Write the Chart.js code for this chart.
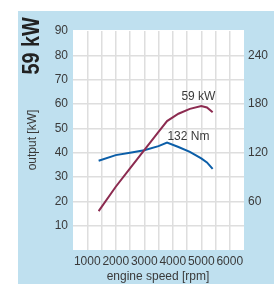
<!DOCTYPE html>
<html>
<head>
<meta charset="utf-8">
<script src="https://cdn.jsdelivr.net/npm/chart.js@4"></script>
<style>
  html, body { margin: 0; padding: 0; background: #fff; }
  #wrap { width: 274px; height: 284px; }
</style>
</head>
<body>
<div id="wrap"><canvas id="chart" width="274" height="284"></canvas></div>
<script>
// engine curve
const rpm = [1400, 2000, 2500, 3000, 3500, 3800, 4200, 4600, 5000, 5200, 5400];
const outputKw = [16, 26, 33.5, 41, 48.5, 53, 56, 58, 59.2, 58.6, 56.6];
const torqueNm = [110, 117, 120, 123, 128, 132.5, 127, 121, 113, 108, 100];
const xTicks = [1000, 2000, 3000, 4000, 5000, 6000];
const leftTicks = [10, 20, 30, 40, 50, 60, 70, 80, 90];
const rightTicks = [60, 120, 180, 240];

const FONT = "'Liberation Sans Narrow', 'Liberation Sans', Arial, sans-serif";
const TEXT = '#3a3a3a';
const GRID = '#dedede';

const points = (xs, ys) => xs.map((x, i) => ({ x: x, y: ys[i] }));

// blue panel, white plot area, titles and curve labels
const decor = {
    id: 'decor',
    beforeDraw(chart) {
        const { ctx, chartArea: a } = chart;
        ctx.save();
        ctx.fillStyle = '#bfe0ef';
        ctx.fillRect(18, 11, 256, 273);
        ctx.fillStyle = '#fff';
        ctx.fillRect(a.left, a.top - 1, a.right - a.left, a.bottom - a.top + 1);
        ctx.restore();
    },
    afterDraw(chart) {
        const { ctx } = chart;
        const x = chart.scales.x, y = chart.scales.y;
        ctx.save();
        ctx.fillStyle = '#222';
        ctx.font = 'bold 23px ' + FONT;
        ctx.textAlign = 'center';
        ctx.textBaseline = 'middle';
        ctx.translate(33, 46);
        ctx.rotate(-Math.PI / 2);
        ctx.scale(0.86, 1);
        ctx.fillText('59 kW', 0, 0);
        ctx.restore();

        ctx.save();
        ctx.fillStyle = TEXT;
        ctx.font = '12px ' + FONT;
        ctx.textAlign = 'center';
        ctx.textBaseline = 'middle';
        ctx.translate(33, 140);
        ctx.rotate(-Math.PI / 2);
        ctx.fillText('output [kW]', 0, 0);
        ctx.restore();

        ctx.save();
        ctx.fillStyle = TEXT;
        ctx.font = '12px ' + FONT;
        ctx.textAlign = 'center';
        ctx.textBaseline = 'middle';
        ctx.fillText('engine speed [rpm]', 158, 277);
        ctx.fillText('59 kW', x.getPixelForValue(4900), y.getPixelForValue(63));
        ctx.fillText('132 Nm', x.getPixelForValue(4550), y.getPixelForValue(46.4));
        ctx.restore();
    }
};

const edgeColor = (min, max) => (c) =>
    (c.tick && (c.tick.value === min || c.tick.value === max)) ? 'rgba(0,0,0,0)' : GRID;

new Chart(document.getElementById('chart'), {
    type: 'line',
    data: {
        datasets: [
            {
                label: 'output [kW]',
                data: points(rpm, outputKw),
                borderColor: '#8c2b50',
                borderWidth: 2,
                pointRadius: 0,
                tension: 0,
                yAxisID: 'y'
            },
            {
                label: 'torque [Nm]',
                data: points(rpm, torqueNm),
                borderColor: '#0b5ea8',
                borderWidth: 2,
                pointRadius: 0,
                tension: 0,
                yAxisID: 'y2'
            }
        ]
    },
    options: {
        responsive: false,
        animation: false,
        layout: { padding: { top: 31, left: 0, right: 0, bottom: 0 } },
        plugins: { legend: { display: false }, tooltip: { enabled: false } },
        scales: {
            x: {
                type: 'linear',
                min: 500,
                max: 6500,
                border: { display: false },
                grid: { color: edgeColor(500, 6500), lineWidth: 1.5, drawTicks: false },
                ticks: {
                    stepSize: 500,
                    autoSkip: false,
                    maxRotation: 0,
                    padding: 4,
                    color: TEXT,
                    font: { family: FONT, size: 12 },
                    callback: (v) => xTicks.includes(v) ? String(v) : ''
                },
                afterFit: (s) => { s.height = 34; }
            },
            y: {
                position: 'left',
                min: 0,
                max: 90,
                border: { display: false },
                grid: { color: edgeColor(0, 90), lineWidth: 1.5, drawTicks: false },
                ticks: {
                    stepSize: 10,
                    padding: 5,
                    color: TEXT,
                    font: { family: FONT, size: 12 },
                    callback: (v) => leftTicks.includes(v) ? String(v) : ''
                },
                afterFit: (s) => { s.width = 73; }
            },
            y2: {
                position: 'right',
                min: 0,
                max: 270,
                border: { display: false },
                grid: { drawOnChartArea: false, drawTicks: false },
                ticks: {
                    stepSize: 60,
                    padding: 4,
                    color: TEXT,
                    font: { family: FONT, size: 12 },
                    callback: (v) => rightTicks.includes(v) ? String(v) : ''
                },
                afterFit: (s) => { s.width = 30; }
            }
        }
    },
    plugins: [decor]
});
</script>
</body>
</html>
